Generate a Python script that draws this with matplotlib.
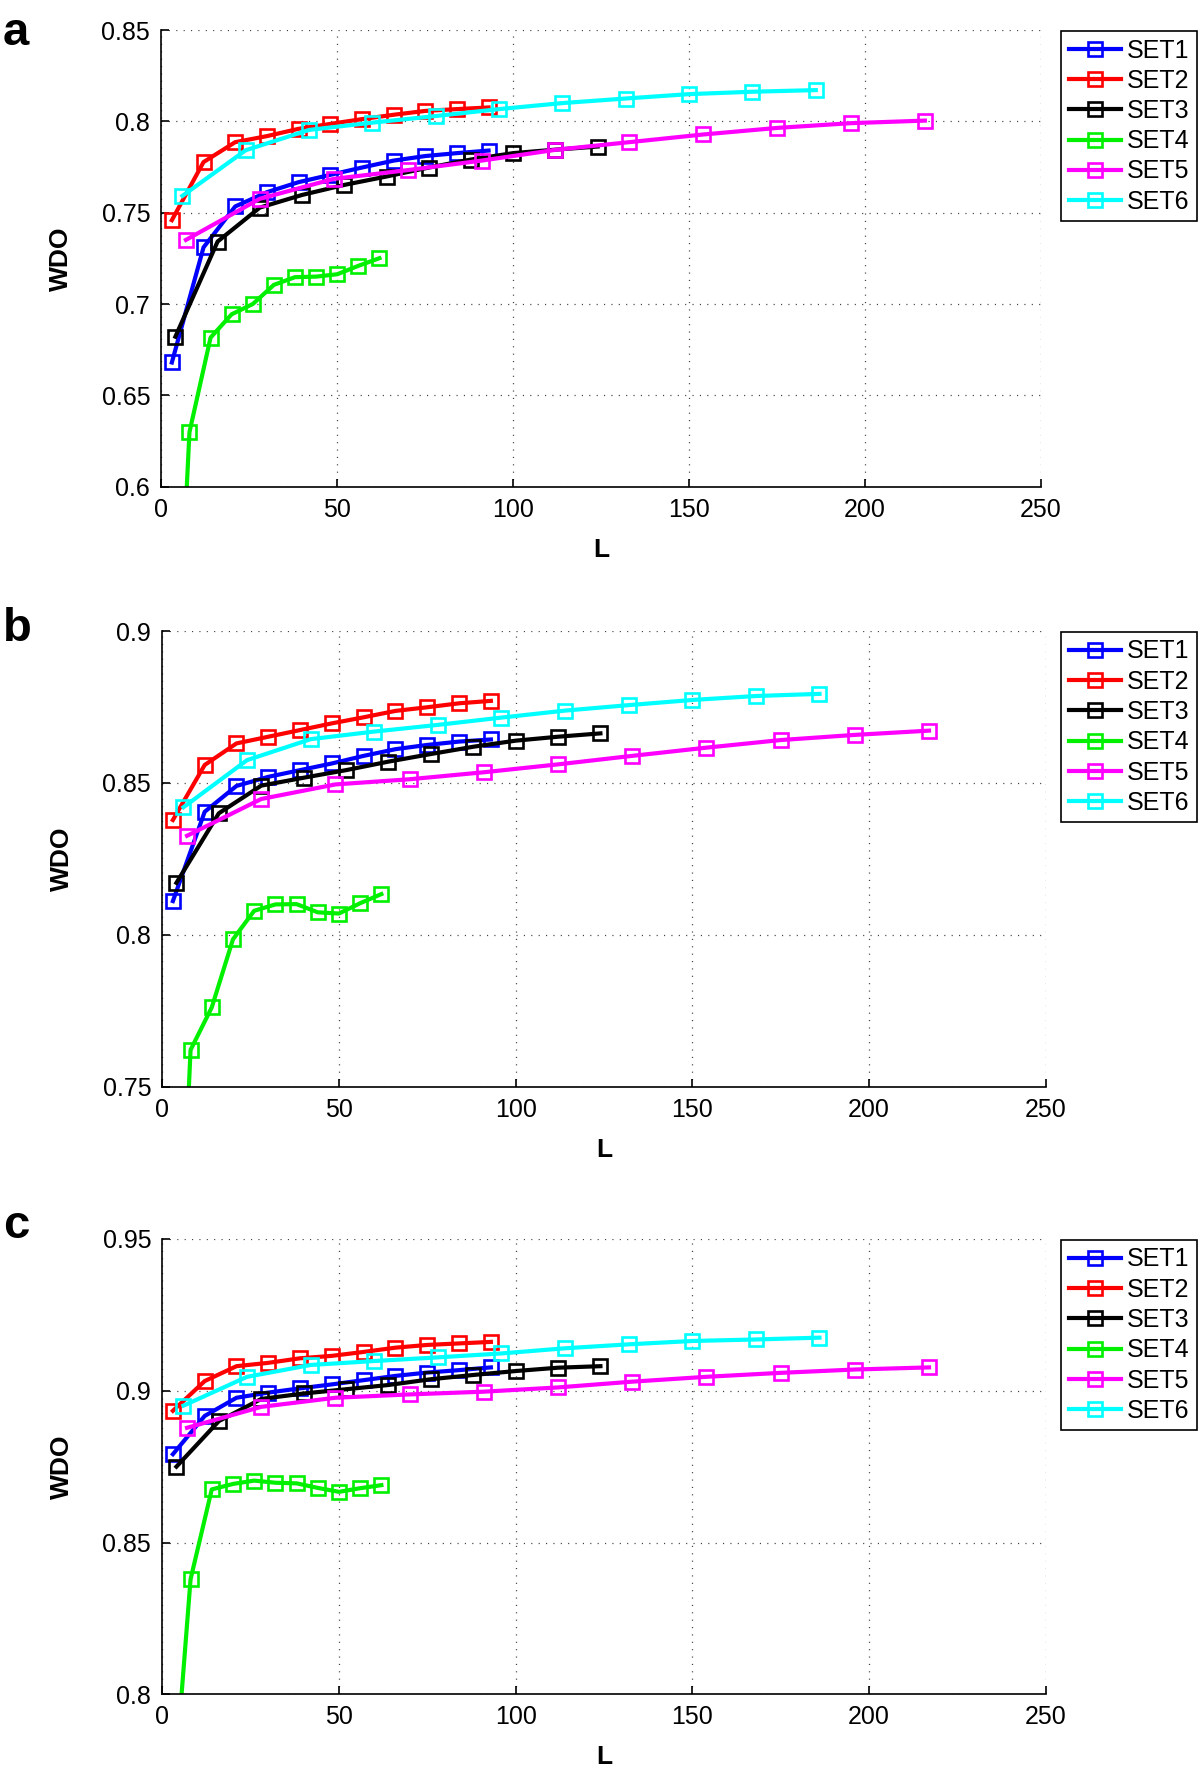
import matplotlib
matplotlib.use("Agg")
import matplotlib.pyplot as plt

plt.rcParams['font.family'] = ['Liberation Sans', 'DejaVu Sans']

# L values per set (same in all three panels)
L_SET1 = [3, 12, 21, 30, 39, 48, 57, 66, 75, 84, 93]
L_SET2 = [3, 12, 21, 30, 39, 48, 57, 66, 75, 84, 93]
L_SET3 = [4, 16, 28, 40, 52, 64, 76, 88, 100, 112, 124]
L_SET4 = [2, 8, 14, 20, 26, 32, 38, 44, 50, 56, 62]
L_SET5 = [7, 28, 49, 70, 91, 112, 133, 154, 175, 196, 217]
L_SET6 = [6, 24, 42, 60, 78, 96, 114, 132, 150, 168, 186]

# panel a
A_SET1 = [0.668, 0.731, 0.7534, 0.7612, 0.7667, 0.7707, 0.7747, 0.7785, 0.781, 0.7826, 0.784]
A_SET2 = [0.7459, 0.7777, 0.7886, 0.7919, 0.7959, 0.7986, 0.8012, 0.8036, 0.8057, 0.8067, 0.8076]
A_SET3 = [0.6821, 0.7342, 0.7528, 0.7597, 0.7652, 0.7698, 0.7747, 0.7791, 0.7826, 0.7845, 0.7862]
A_SET4 = [0.394, 0.6298, 0.6816, 0.6944, 0.70, 0.7105, 0.7147, 0.715, 0.7163, 0.7209, 0.7251]
A_SET5 = [0.7351, 0.7576, 0.7685, 0.7733, 0.7785, 0.7844, 0.7886, 0.7928, 0.7964, 0.799, 0.8004]
A_SET6 = [0.7592, 0.7842, 0.7953, 0.7993, 0.8029, 0.8067, 0.81, 0.8125, 0.8149, 0.8162, 0.8171]

# panel b
B_SET1 = [0.8111, 0.8405, 0.849, 0.852, 0.8542, 0.8564, 0.8589, 0.8611, 0.8625, 0.8636, 0.8643]
B_SET2 = [0.8378, 0.8559, 0.863, 0.8652, 0.8674, 0.8696, 0.8716, 0.8737, 0.8749, 0.8762, 0.877]
B_SET3 = [0.8171, 0.84, 0.8491, 0.8517, 0.8542, 0.857, 0.8595, 0.8619, 0.8639, 0.8652, 0.8663]
B_SET4 = [0.609, 0.7621, 0.7761, 0.7985, 0.8079, 0.81, 0.8101, 0.8074, 0.807, 0.8104, 0.8134]
B_SET5 = [0.8326, 0.8447, 0.8495, 0.8512, 0.8535, 0.8561, 0.8589, 0.8616, 0.8641, 0.8658, 0.8672]
B_SET6 = [0.842, 0.8575, 0.8644, 0.8669, 0.8691, 0.8715, 0.8738, 0.8756, 0.8773, 0.8786, 0.8793]

# panel c
C_SET1 = [0.8791, 0.8917, 0.8977, 0.8994, 0.9008, 0.9021, 0.9035, 0.9049, 0.906, 0.9068, 0.9077]
C_SET2 = [0.8934, 0.9032, 0.9081, 0.9092, 0.9107, 0.9115, 0.9128, 0.9142, 0.9151, 0.9156, 0.9161]
C_SET3 = [0.875, 0.89, 0.8973, 0.8991, 0.9005, 0.9019, 0.9038, 0.9052, 0.9065, 0.9076, 0.9081]
C_SET4 = [0.7486, 0.8379, 0.8675, 0.8693, 0.8704, 0.8697, 0.8695, 0.868, 0.8667, 0.8679, 0.8689]
C_SET5 = [0.8878, 0.8947, 0.8977, 0.8988, 0.8997, 0.9011, 0.903, 0.9046, 0.9059, 0.907, 0.9077]
C_SET6 = [0.8951, 0.9046, 0.9085, 0.9098, 0.911, 0.9123, 0.914, 0.9153, 0.9164, 0.9169, 0.9175]

SET_NAMES = ['SET1', 'SET2', 'SET3', 'SET4', 'SET5', 'SET6']
COLORS = ['#0000ff', '#ff0000', '#000000', '#00f000', '#ff00ff', '#00ffff']

X_TICKS = [0, 50, 100, 150, 200, 250]
A_YTICKS = [0.6, 0.65, 0.7, 0.75, 0.8, 0.85]
A_YLABELS = ['0.6', '0.65', '0.7', '0.75', '0.8', '0.85']
B_YTICKS = [0.75, 0.8, 0.85, 0.9]
B_YLABELS = ['0.75', '0.8', '0.85', '0.9']
C_YTICKS = [0.8, 0.85, 0.9, 0.95]
C_YLABELS = ['0.8', '0.85', '0.9', '0.95']

W, H = 1200, 1770
fig = plt.figure(figsize=(W / 100, H / 100), dpi=100)

xs = [L_SET1, L_SET2, L_SET3, L_SET4, L_SET5, L_SET6]
# (letter, data, ticks, labels, axes box in pixels, letter baseline y in pixels)
panels = [
    ('a', [A_SET1, A_SET2, A_SET3, A_SET4, A_SET5, A_SET6], A_YTICKS, A_YLABELS,
     (161.3, 30, 879.7, 456.7), 45),
    ('b', [B_SET1, B_SET2, B_SET3, B_SET4, B_SET5, B_SET6], B_YTICKS, B_YLABELS,
     (162.3, 631, 883.3, 455.7), 641),
    ('c', [C_SET1, C_SET2, C_SET3, C_SET4, C_SET5, C_SET6], C_YTICKS, C_YLABELS,
     (162.3, 1239, 883.3, 455.3), 1238),
]

for letter, ys, yticks, ylabels, (px, py, pw, ph), ly in panels:
    ax = fig.add_axes([px / W, 1 - (py + ph) / H, pw / W, ph / H])
    for x, y, name, c in zip(xs, ys, SET_NAMES, COLORS):
        ax.plot(x, y, '-s', color=c, lw=3.0, ms=9.5, mfc='none', mew=1.9, label=name)

    ax.set_xlim(0, 250)
    ax.set_ylim(yticks[0], yticks[-1])
    ax.set_xticks(X_TICKS)
    ax.set_yticks(yticks)
    ax.set_yticklabels(ylabels)

    ax.spines['top'].set_visible(False)
    ax.spines['right'].set_visible(False)
    ax.spines['left'].set_linewidth(1.2)
    ax.spines['bottom'].set_linewidth(1.2)
    ax.tick_params(direction='in', length=6, width=1.2, labelsize=18, pad=8)
    ax.grid(True, color='0.25', lw=0.9, linestyle=(0, (0.9, 5)))

    ax.set_xlabel('L', fontsize=19, fontweight='bold')
    ax.set_ylabel('WDO', fontsize=19, fontweight='bold')
    ax.xaxis.set_label_coords(0.5, -0.112)
    ax.yaxis.set_label_coords(-0.1, 0.5)

    leg = ax.legend(loc='upper left', bbox_to_anchor=(1061 / W, 1 - (py + 1) / H),
                    bbox_transform=fig.transFigure, borderaxespad=0, fontsize=18,
                    fancybox=False, framealpha=1, edgecolor='black',
                    handlelength=2.1, handletextpad=0.25, labelspacing=0.25,
                    borderpad=0.3)
    leg.get_frame().set_linewidth(1.2)

    fig.text(3 / W, 1 - ly / H, letter, fontsize=34, fontweight='bold',
             ha='left', va='baseline')

fig.savefig('out.png', dpi=100)
